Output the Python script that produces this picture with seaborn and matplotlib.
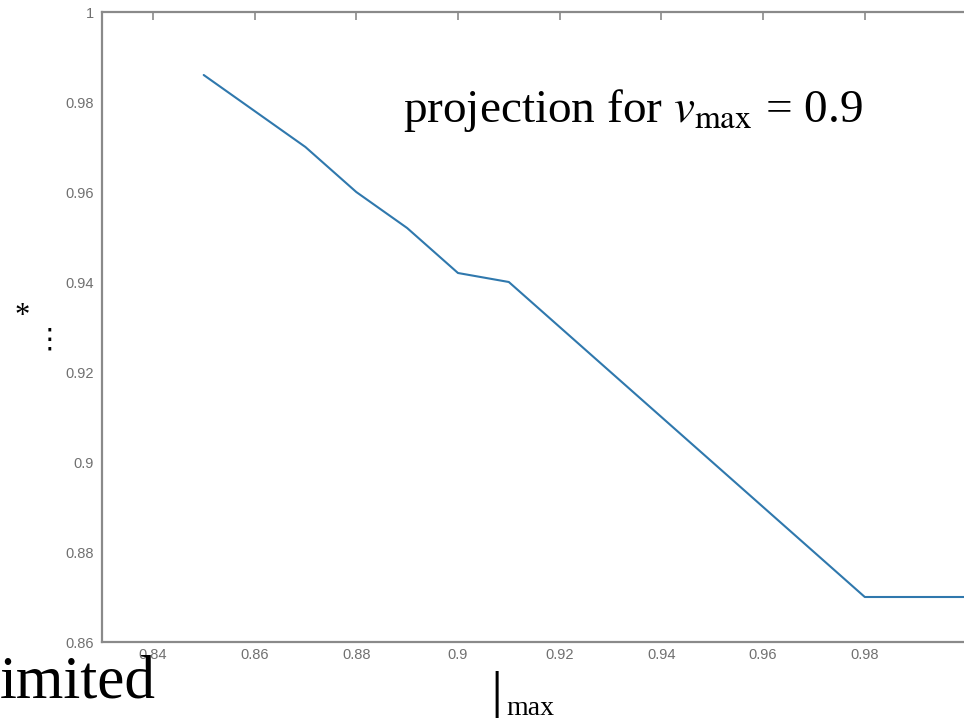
import matplotlib
matplotlib.use("Agg")
import matplotlib.pyplot as plt
import seaborn as sns

# values
v_max = [0.85, 0.86, 0.87, 0.88, 0.89, 0.90, 0.91, 0.92, 0.93, 0.94,
         0.95, 0.96, 0.97, 0.98, 0.99, 1.00]
projection = [0.986, 0.978, 0.970, 0.960, 0.952, 0.942, 0.940, 0.930, 0.920,
              0.910, 0.900, 0.890, 0.880, 0.870, 0.870, 0.870]
x_ticks = [0.84, 0.86, 0.88, 0.90, 0.92, 0.94, 0.96, 0.98]
x_tick_labels = ["0.84", "0.86", "0.88", "0.9", "0.92", "0.94", "0.96", "0.98"]
y_ticks = [0.86, 0.88, 0.90, 0.92, 0.94, 0.96, 0.98, 1.00]
y_tick_labels = ["0.86", "0.88", "0.9", "0.92", "0.94", "0.96", "0.98", "1"]

sns.set_style("white")
plt.rcParams["font.family"] = ["Liberation Sans", "DejaVu Sans"]
plt.rcParams["mathtext.fontset"] = "stix"

W, H = 964, 718
fig = plt.figure(figsize=(W / 100, H / 100), dpi=100)
# axes runs past the right edge, as in the cropped slide
ax = fig.add_axes([102 / W, 1 - 642 / H, (966.5 - 102) / W, (642 - 12) / H])

sns.lineplot(x=v_max, y=projection, ax=ax, color="#2f78ad", linewidth=1.5)

ax.set_xlim(0.83, 1.0)
ax.set_ylim(0.86, 1.0)
ax.set_xticks(x_ticks, x_tick_labels)
ax.set_yticks(y_ticks, y_tick_labels)
ax.tick_params(direction="in", length=6, width=1.2, color="#8a8a8a",
               labelsize=10.5, labelcolor="#707070", top=True, right=False)
ax.tick_params(axis="x", pad=4)
ax.tick_params(axis="y", pad=6)
for s in ax.spines.values():
    s.set_color("#8a8a8a")
    s.set_linewidth(1.6)

# slide text around the plot
serif = ["Liberation Serif", "DejaVu Serif"]
fig.text(403 / W, 1 - 122 / H, r"projection for $v_{\mathrm{max}}$ = 0.9",
         fontsize=34, family=serif, va="baseline", color="black")
fig.text(0, 1 - 697 / H, "imited", fontsize=44, family=serif, va="baseline",
         color="black")
fig.text(490 / W, 1 - 714 / H, "|", fontsize=44, family=serif, va="baseline",
         color="black")
fig.text(506 / W, 1 - 715 / H, "max", fontsize=20, family=serif, va="baseline",
         color="black")
fig.text(22 / W, 1 - 324 / H, "*", fontsize=22, family=serif, ha="center",
         va="baseline", color="black")
fig.text(49 / W, 1 - 348 / H, "\u22ee", fontsize=20, family=["DejaVu Sans"],
         ha="center", va="baseline", color="black")

fig.savefig("out.png", dpi=100)
